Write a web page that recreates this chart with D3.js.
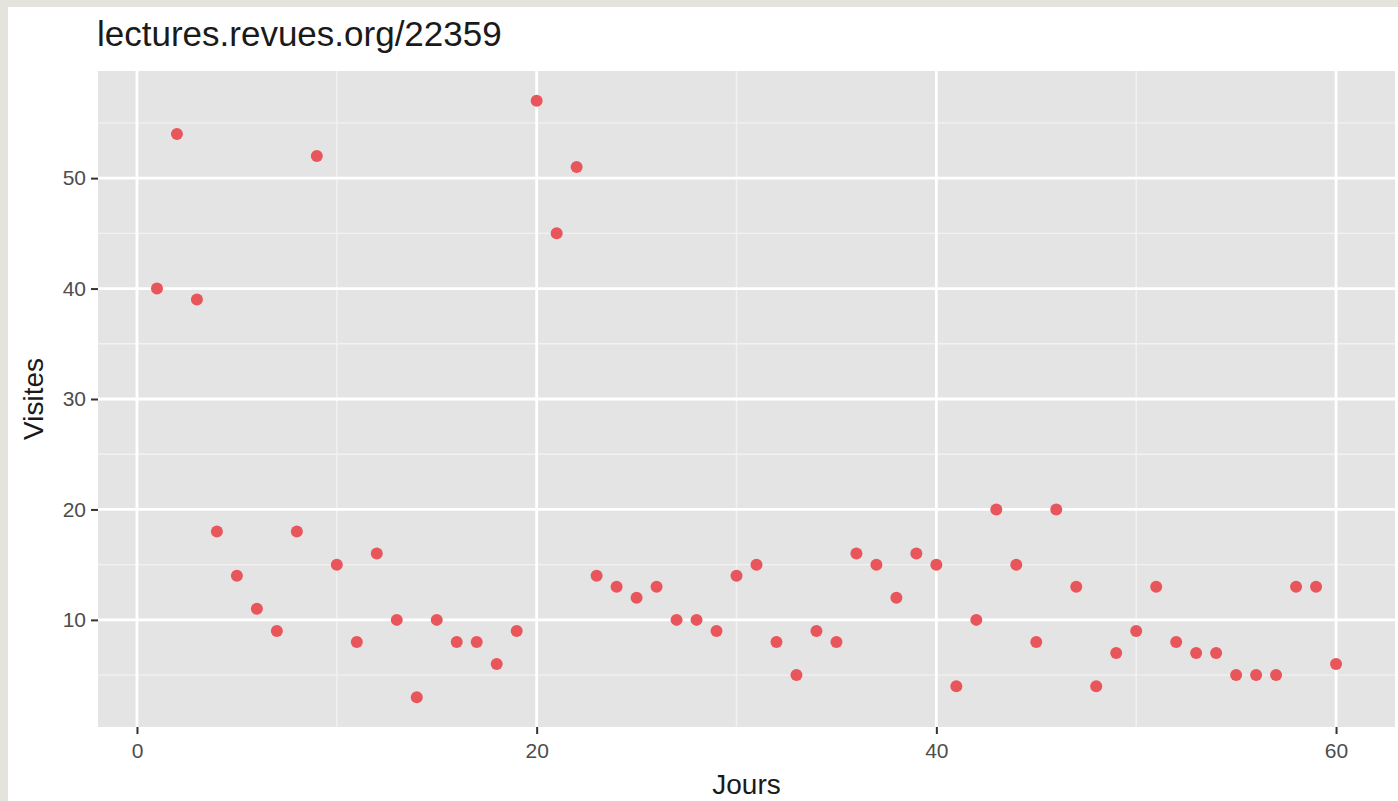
<!DOCTYPE html>
<html><head><meta charset="utf-8">
<script src="https://cdn.jsdelivr.net/npm/d3@7"></script>
<style>html,body{margin:0;padding:0;background:#fff;}svg{display:block;}</style>
</head><body>
<script>
const days = d3.range(1, 61);
const visites = [40,54,39,18,14,11,9,18,52,15,8,16,10,3,10,8,8,6,9,57,45,51,14,13,12,13,10,10,9,14,15,8,5,9,8,16,15,12,16,15,4,10,20,15,8,20,13,4,7,9,13,8,7,7,5,5,5,13,13,6];
const xTicks = [0, 20, 40, 60];
const yTicks = [10, 20, 30, 40, 50];
const xMinor = [10, 30, 50];
const yMinor = [5, 15, 25, 35, 45, 55];
const title = "lectures.revues.org/22359";
const xTitle = "Jours";
const yTitle = "Visites";

const W = 1398, H = 801;
const P = {left: 98, right: 1395, top: 71, bottom: 727};
const font = "'Liberation Sans', Arial, Helvetica, sans-serif";

const svg = d3.select("body").append("svg").attr("width", W).attr("height", H);
svg.append("rect").attr("width", W).attr("height", H).attr("fill", "#e4e4dc");
svg.append("rect").attr("x", 8).attr("y", 7).attr("width", W - 8).attr("height", H - 7).attr("fill", "#ffffff");

const xr = d3.extent(days), yr = d3.extent(visites);
const xe = (xr[1] - xr[0]) * 0.05, ye = (yr[1] - yr[0]) * 0.05;
const x = d3.scaleLinear().domain([xr[0] - xe, xr[1] + xe]).range([P.left, P.right]);
const y = d3.scaleLinear().domain([yr[0] - ye, yr[1] + ye]).range([P.bottom, P.top]);

svg.append("rect").attr("x", P.left).attr("y", P.top)
  .attr("width", P.right - P.left).attr("height", P.bottom - P.top).attr("fill", "#e4e4e4");

const g = svg.append("g");
g.selectAll(".ymin").data(yMinor).join("line")
  .attr("x1", P.left).attr("x2", P.right).attr("y1", d => y(d)).attr("y2", d => y(d))
  .attr("stroke", "#f2f2f2").attr("stroke-width", 1.4);
g.selectAll(".xmin").data(xMinor).join("line")
  .attr("y1", P.top).attr("y2", P.bottom).attr("x1", d => x(d)).attr("x2", d => x(d))
  .attr("stroke", "#f2f2f2").attr("stroke-width", 1.4);
g.selectAll(".ymaj").data(yTicks).join("line")
  .attr("x1", P.left).attr("x2", P.right).attr("y1", d => y(d)).attr("y2", d => y(d))
  .attr("stroke", "#ffffff").attr("stroke-width", 2.8);
g.selectAll(".xmaj").data(xTicks).join("line")
  .attr("y1", P.top).attr("y2", P.bottom).attr("x1", d => x(d)).attr("x2", d => x(d))
  .attr("stroke", "#ffffff").attr("stroke-width", 2.8);

// axes
const xAxis = svg.append("g").attr("transform", `translate(0,${P.bottom})`)
  .call(d3.axisBottom(x).tickValues(xTicks).tickSize(7).tickPadding(4).tickFormat(d3.format("d")));
const yAxis = svg.append("g").attr("transform", `translate(${P.left},0)`)
  .call(d3.axisLeft(y).tickValues(yTicks).tickSize(7).tickPadding(5).tickFormat(d3.format("d")));
[xAxis, yAxis].forEach(a => {
  a.select(".domain").remove();
  a.selectAll(".tick line").attr("stroke", "#333333").attr("stroke-width", 2);
  a.selectAll(".tick text").attr("fill", "#4d4d4d").style("font-family", font).style("font-size", "21px");
});
xAxis.selectAll(".tick text").attr("dy", "0.95em");

// points
svg.append("g").selectAll("circle").data(days).join("circle")
  .attr("cx", d => x(d)).attr("cy", (d, i) => y(visites[i])).attr("r", 6)
  .attr("fill", "#e8565b");

// titles
svg.append("text").attr("x", 97).attr("y", 46).text(title)
  .attr("fill", "#1a1a1a").style("font-family", font).style("font-size", "35px");
svg.append("text").attr("x", (P.left + P.right) / 2).attr("y", 794).attr("text-anchor", "middle")
  .text(xTitle).attr("fill", "#1a1a1a").style("font-family", font).style("font-size", "28px");
svg.append("text").attr("transform", `translate(43,${(P.top + P.bottom) / 2}) rotate(-90)`)
  .attr("text-anchor", "middle").text(yTitle)
  .attr("fill", "#1a1a1a").style("font-family", font).style("font-size", "28px");
</script>
</body></html>
